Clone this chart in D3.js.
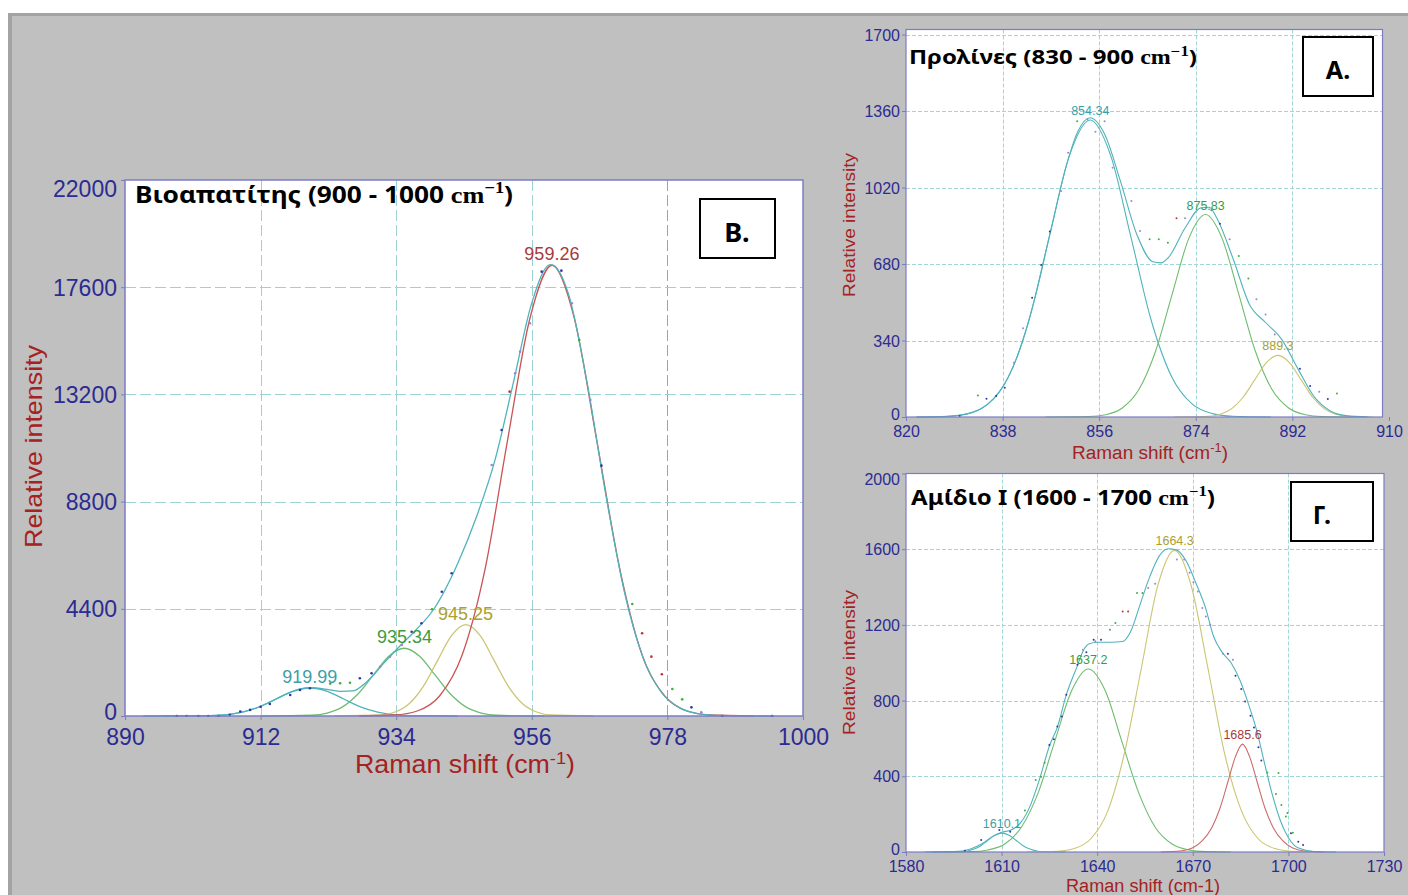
<!DOCTYPE html>
<html><head><meta charset="utf-8">
<script src="https://cdn.jsdelivr.net/npm/d3@7"></script>
<style>body{margin:0;background:#fff;} svg{display:block;}</style>
</head><body>
<svg id="chart" width="1408" height="895"></svg>
<script>
// ---------------- DATA ----------------
// Panel B (Βιοαπατίτης)
const bXTicks = [890, 912, 934, 956, 978, 1000];
const bYTicks = [0, 4400, 8800, 13200, 17600, 22000];
const bPeakLabels = ["919.99", "935.34", "945.25", "959.26"];
const bPeakCenters = [919.99, 935.34, 945.25, 959.26];
const bPeakHeights = [1150, 2780, 3750, 18500];
const bPeak920 = [[896,0],[903,13],[906.2,50],[909,156],[911.8,373],[914.5,697],[917.2,1015],[920,1150],[922.8,1015],[925.5,697],[928.2,373],[931,156],[933.8,50],[937,13],[944,0]];
const bPeak935 = [[912,0],[920.3,31],[922.8,122],[925.3,376],[927.8,903],[930.3,1686],[932.8,2453],[935.3,2780],[937.8,2453],[940.3,1686],[942.8,903],[945.3,376],[947.8,122],[950.3,31],[958,0]];
const bPeak945 = [[924,0],[931.5,42],[933.8,165],[936.1,507],[938.4,1218],[940.7,2274],[943,3309],[945.3,3750],[947.6,3309],[949.9,2274],[952.2,1218],[954.5,507],[956.8,165],[959.1,42],[966,0]];
const bPeak959 = [[928,0],[933.7,41],[937.4,205],[941,812],[944.7,2503],[948.4,6007],[952,11220],[955.7,16326],[959.3,18500],[962.9,16326],[966.6,11220],[970.3,6007],[973.9,2503],[977.6,812],[981.2,205],[984.9,41],[992,0]];
const bEnvelope = [[893,0],[900,2],[905,28],[908,106],[911,301],[914,634],[917,994],[920,1160],[923,1085],[925,1010],[927,1030],[929.2,1400],[932,2170],[934.6,2870],[937,3480],[940,4351],[944,6274],[947,8156],[950,10480],[953,13676],[956,16957],[959,18528],[962,17282],[965,13640],[968,9093],[971,5121],[974,2436],[977,978],[980,332],[983,95],[986,23],[990,3],[995,0]];
const bDotsBlue = [[898.4,0],[900,0],[901.9,0],[903.5,0],[905.2,0],[907,40],[908.7,180],[910.3,250],[912,380],[913.5,493],[916.8,862],[918.4,1067],[920,1137],[928.1,1548],[930,1753],[936.5,3461],[938.1,3805],[941.4,5102],[943,5857],[951.1,11741],[957.6,18238],[960.8,18279],[967.3,10275],[981.9,356],[986.9,0],[995,0]];
const bDotsGreen = [[923.3,1330],[924.9,1342],[926.5,1367],[939.8,4380],[963.7,15435],[972.3,4597],[978.8,1108],[980.4,684]];
const bDotsRed = [[952.4,13313],[973.9,3394],[975.4,2435],[977.1,1711]];
const bDotsPurple = [[931.4,2024],[933,2434],[934.9,2915],[949.5,10304],[953.3,14067],[954.1,14955],[955.7,16120],[962.5,16941],[965.5,12972],[983.5,151]];

// Panel A (Προλίνες)
const aXTicks = [820, 838, 856, 874, 892, 910];
const aYTicks = [0, 340, 680, 1020, 1360, 1700];
const aPeakLabels = ["854.34", "875.83", "889.3"];
const aPeakCenters = [854.34, 875.83, 889.3];
const aPeakHeights = [1320, 900, 274];
const aPeak854 = [[822,0],[827.7,3],[831.5,15],[835.3,58],[839.1,179],[842.9,429],[846.7,801],[850.5,1165],[854.3,1320],[858.1,1165],[861.9,801],[865.7,429],[869.5,179],[873.3,58],[877.1,15],[880.9,3],[888,0]];
const aPeak876 = [[846,0],[854.1,2],[857.2,10],[860.3,40],[863.4,122],[866.5,292],[869.6,546],[872.7,794],[875.8,900],[878.9,794],[882,546],[885.1,292],[888.2,122],[891.3,40],[894.4,10],[897.5,2],[904,0]];
const aPeak889 = [[870,0],[876.4,3],[878.55,12],[880.7,37],[882.85,89],[885,166],[887.15,242],[889.3,274],[891.45,242],[893.6,166],[895.75,89],[897.9,37],[900.05,12],[902.2,3],[907,0]];
const aEnvelope = [[822,0],[826,1],[830,8],[834,37],[838,132],[841,285],[844,527],[847,832],[850,1128],[852,1268],[854.3,1330],[857,1258],[860,1045],[863,812],[866,690],[867.5,685],[869,712],[872,840],[875,930],[876.5,932],[878,880],[881,700],[884,500],[887,420],[890,345],[893,215],[896,92],[899,28],[902,6],[906,0]];
const aDotsBlue = [[830,4],[835,81],[836.8,93],[838.4,130],[843.5,530],[845.2,676],[846.8,824],[878.5,859],[893.4,215],[895.3,138],[898.6,80]];
const aDotsGreen = [[833.4,96],[851.9,1315],[865.4,790],[867.1,790],[868.8,775],[876.9,919],[882,716],[883.8,616],[900.3,104]];
const aDotsRed = [[870.4,883]];
const aDotsPurple = [[840.1,241],[841.8,394],[848.9,1004],[850.2,1175],[853.8,1323],[855.3,1268],[857,1315],[858.5,1108],[862,960],[863.6,827],[872,883],[880.3,790],[885.3,523],[887,456],[888.7,367],[897,112]];

// Panel Γ (Αμίδιο I)
const gXTicks = [1580, 1610, 1640, 1670, 1700, 1730];
const gYTicks = [0, 400, 800, 1200, 1600, 2000];
const gPeakLabels = ["1610.1", "1637.2", "1664.3", "1685.6"];
const gPeakCenters = [1610.1, 1637.2, 1664.3, 1685.6];
const gPeakHeights = [100, 967, 1594, 570];
const gPeak1610 = [[1588,0],[1596.6,1],[1598.9,4],[1601.1,14],[1603.4,32],[1605.6,61],[1607.85,88],[1610.1,100],[1612.35,88],[1614.6,61],[1616.85,32],[1619.1,14],[1621.35,4],[1623.6,1],[1630,0]];
const gPeak1637 = [[1592,0],[1600.5,2],[1605.7,11],[1611,42],[1616.2,131],[1621.5,314],[1626.7,586],[1632,853],[1637.2,967],[1642.5,853],[1647.7,586],[1653,314],[1658.2,131],[1663.5,42],[1668.7,11],[1674,2],[1682,0]];
const gPeak1664 = [[1618,0],[1627.5,4],[1632.8,18],[1638,70],[1643.3,216],[1648.5,518],[1653.8,967],[1659,1407],[1664.3,1594],[1669.5,1407],[1674.8,967],[1680,518],[1685.3,216],[1690.5,70],[1695.8,18],[1701,4],[1710,0]];
const gPeak1686 = [[1660,0],[1666,5],[1670,22],[1673,60],[1676,130],[1678.5,230],[1681,370],[1683.3,500],[1685.6,570],[1687.9,500],[1690.2,370],[1692.7,230],[1695.2,130],[1698.2,60],[1701.2,22],[1705.2,5],[1711,0]];
const gEnvelope = [[1586,0],[1595,2],[1600,15],[1604,45],[1607,80],[1610,104],[1613,116],[1616,155],[1619,245],[1622,390],[1625,560],[1627.5,660],[1630.3,830],[1633.8,985],[1635.5,1060],[1637.5,1100],[1640,1108],[1644,1108],[1648,1112],[1650.5,1165],[1653.5,1310],[1656.5,1455],[1659.5,1565],[1662.3,1602],[1665,1595],[1668,1535],[1671,1420],[1674,1290],[1676.5,1140],[1679,1060],[1682,1000],[1685,900],[1687.5,780],[1690,645],[1692.5,470],[1695,300],[1697.5,165],[1700,75],[1703,22],[1708,3],[1715,0]];
const gDotsBlue = [[1598.5,7],[1603.6,63],[1609.3,116],[1612.7,107],[1625,566],[1626.4,596],[1627.5,663],[1628.9,716],[1630.3,831],[1633.8,989],[1636.6,1055],[1638.9,1122],[1641.2,1122],[1681,1048],[1683.4,931],[1685.2,861],[1686.4,795],[1688.1,720],[1689.2,658],[1690.6,554],[1691.5,483],[1700.8,99],[1703.1,54],[1704.6,37]];
const gDotsGreen = [[1617.3,219],[1620.7,381],[1622.4,398],[1623.5,472],[1644,1175],[1645.7,1210],[1652.5,1369],[1654.2,1369],[1693.4,420],[1696.1,307],[1696.9,418],[1697.8,249],[1699.2,187],[1699.7,206],[1701.4,102]];
const gDotsRed = [[1648,1271],[1649.7,1271]];
const gDotsPurple = [[1635.5,1069],[1639.4,1113],[1656,1395],[1658.2,1418],[1665,1545],[1667.3,1545],[1669,1475],[1670.2,1425],[1671.6,1377],[1673,1289],[1674.1,1245],[1675.5,1201],[1679.5,1048],[1682.6,1016]];

// ---------------- STYLE ----------------
const W = 1408, H = 895;
const FRAME = "#7c7cc6", TICK = "#2b2b92", AXT = "#a42222";
const SANS = "'Liberation Sans', Arial, sans-serif";
const BOLD = "'Noto Sans', 'DejaVu Sans', sans-serif";
const SERIF = "'Liberation Serif', 'DejaVu Serif', serif";
const TEAL = "#4fb3bb", GREEN = "#6fbc6f", OLIVE = "#cbc572", RED = "#c85454", REDSOFT = "#cc6c6c";
const DOTC = ["#3535a8", "#3fae3f", "#c03434", "#9c86d0"];

const svg = d3.select("#chart");
svg.append("rect").attr("width", W).attr("height", H).attr("fill", "#fff");
svg.append("rect").attr("x", 8).attr("y", 13).attr("width", W - 8).attr("height", H - 13).attr("fill", "#c0c0c0");
svg.append("rect").attr("x", 8).attr("y", 13).attr("width", W - 8).attr("height", 3).attr("fill", "#a3a3a3");
svg.append("rect").attr("x", 8).attr("y", 13).attr("width", 4).attr("height", H - 13).attr("fill", "#a3a3a3");
const defs = svg.append("defs");

function drawPanel(p) {
  const g = svg.append("g");
  const x = d3.scaleLinear().domain(p.xDomain).range([p.left, p.right]);
  const y = d3.scaleLinear().domain(p.yDomain).range([p.bottom, p.top]);
  const fR = p.frameRight, fT = p.frameTop;
  g.append("rect").attr("x", p.left).attr("y", fT).attr("width", fR - p.left).attr("height", p.bottom - fT).attr("fill", "#fff");
  const grid = g.append("g").attr("stroke", p.gridColor).attr("stroke-width", 1).attr("stroke-dasharray", p.dash).attr("fill", "none");
  grid.selectAll(".gv").data(p.xTicks.filter(t => x(t) > p.left + 1 && x(t) < fR - 1)).join("line").attr("class", "gv")
    .attr("x1", d => Math.round(x(d)) + 0.5).attr("x2", d => Math.round(x(d)) + 0.5).attr("y1", fT).attr("y2", p.bottom)
    .attr("stroke", d => p.darkV && d === p.darkV ? "#6fb8b8" : null);
  grid.selectAll(".gh").data(p.yTicks.filter(t => y(t) > fT + 1 && y(t) < p.bottom - 1)).join("line").attr("class", "gh")
    .attr("y1", d => Math.round(y(d)) + 0.5).attr("y2", d => Math.round(y(d)) + 0.5).attr("x1", p.left).attr("x2", fR);
  defs.append("clipPath").attr("id", "clip-" + p.id).append("rect")
    .attr("x", p.left).attr("y", fT).attr("width", fR - p.left).attr("height", p.bottom - fT + 1);
  const plot = g.append("g").attr("clip-path", `url(#clip-${p.id})`).attr("fill", "none");
  const line = d3.line().x(d => x(d[0])).y(d => y(d[1])).curve(d3.curveMonotoneX);
  p.components.forEach((c, i) => plot.append("path").attr("d", line(c)).attr("stroke", p.compColors[i]).attr("stroke-width", p.lw));
  plot.append("path").attr("d", line(p.envelope)).attr("stroke", TEAL).attr("stroke-width", p.lw);
  p.dots.forEach((set, i) => plot.append("g").attr("fill", DOTC[i]).selectAll("circle").data(set).join("circle")
    .attr("cx", d => x(d[0])).attr("cy", d => y(d[1])).attr("r", p.dotR));
  // peak labels
  g.append("g").selectAll("text").data(p.peakCenters).join("text")
    .attr("x", d => x(d)).attr("y", (d, i) => y(p.peakHeights[i]) - 5).attr("text-anchor", "middle")
    .attr("fill", (d, i) => p.labelColors[i]).attr("font-family", SANS).attr("font-size", p.peakFont)
    .text((d, i) => p.peakLabels[i]);
  // frame
  g.append("rect").attr("x", p.left).attr("y", fT).attr("width", fR - p.left).attr("height", p.bottom - fT)
    .attr("fill", "none").attr("stroke", FRAME).attr("stroke-width", p.frameW);
  // axes
  const ya = g.append("g").attr("transform", `translate(${p.left},0)`)
    .call(d3.axisLeft(y).tickValues(p.yTicks).tickSize(p.tickLen).tickFormat(d => String(d)));
  ya.select(".domain").remove();
  ya.selectAll(".tick line").attr("stroke", FRAME);
  ya.selectAll(".tick text").attr("fill", TICK).attr("font-size", p.tickFont).attr("font-family", SANS)
    .attr("x", -p.yGap).attr("dy", "0.35em")
    .attr("y", d => { const cy = y(d); const t = Math.min(Math.max(cy, fT + p.tickFont * 0.36), p.bottom - p.tickFont * 0.22); return t - cy; });
  const xa = g.append("g").attr("transform", `translate(0,${p.bottom})`)
    .call(d3.axisBottom(x).tickValues(p.xTicks).tickSize(p.tickLen).tickFormat(d => String(d)));
  xa.select(".domain").remove();
  xa.selectAll(".tick line").attr("stroke", FRAME);
  xa.selectAll(".tick text").attr("fill", TICK).attr("font-size", p.tickFont).attr("font-family", SANS)
    .attr("y", p.xGap).attr("dy", "0.35em");
}

function richTitle(main, x, yb, size, len) {
  const t = svg.append("text").attr("x", x).attr("y", yb).attr("font-size", size).attr("font-weight", "bold")
    .attr("fill", "#000").attr("textLength", len).attr("lengthAdjust", "spacingAndGlyphs");
  t.append("tspan").attr("font-family", BOLD).text(main);
  t.append("tspan").attr("font-family", SERIF).text("cm");
  t.append("tspan").attr("font-family", SERIF).attr("font-size", size * 0.7).attr("dy", -size * 0.42).text("\u22121");
  t.append("tspan").attr("font-family", BOLD).attr("dy", size * 0.42).text(")");
}
function xTitle(x, yb, size, len, sup) {
  const t = svg.append("text").attr("x", x).attr("y", yb).attr("font-size", size).attr("font-family", SANS)
    .attr("fill", AXT).attr("textLength", len).attr("lengthAdjust", "spacingAndGlyphs");
  if (sup) {
    t.append("tspan").text("Raman shift (cm");
    t.append("tspan").attr("font-size", size * 0.68).attr("dy", -size * 0.38).text("-1");
    t.append("tspan").attr("dy", size * 0.38).text(")");
  } else {
    t.text("Raman shift (cm-1)");
  }
}
function yTitle(xb, ystart, size, len) {
  svg.append("text").attr("transform", `translate(${xb},${ystart}) rotate(-90)`).attr("font-size", size)
    .attr("font-family", SANS).attr("fill", AXT).attr("textLength", len).attr("lengthAdjust", "spacingAndGlyphs")
    .text("Relative intensity");
}
function box(x, y, w, h, label, size, cx, yb) {
  svg.append("rect").attr("x", x).attr("y", y).attr("width", w).attr("height", h).attr("fill", "#fff")
    .attr("stroke", "#000").attr("stroke-width", 2);
  svg.append("text").attr("x", cx).attr("y", yb).attr("text-anchor", "middle").attr("font-family", BOLD)
    .attr("font-weight", "bold").attr("font-size", size).attr("fill", "#000").text(label);
}

// ---- Panel B ----
drawPanel({
  id: "B", xDomain: [890, 1000], yDomain: [0, 22000], left: 125, right: 803, top: 180, bottom: 716,
  frameTop: 180, frameRight: 803, xTicks: bXTicks, yTicks: bYTicks, gridColor: "#9dd2d2", dash: "11,4", darkV: 978,
  components: [bPeak920, bPeak935, bPeak945, bPeak959], compColors: [TEAL, GREEN, OLIVE, RED],
  envelope: bEnvelope, dots: [bDotsBlue, bDotsGreen, bDotsRed, bDotsPurple], dotR: 1.3, lw: 1.3,
  peakCenters: bPeakCenters, peakHeights: bPeakHeights, peakLabels: bPeakLabels,
  labelColors: ["#3a9fa8", "#3c9c3c", "#aaa030", "#a83a3a"], peakFont: 18,
  frameW: 1.5, tickLen: 4, tickFont: 23, yGap: 8, xGap: 21
});
richTitle("Βιοαπατίτης (900 - 1000 ", 135, 203, 23, 378);
xTitle(355, 773, 25, 220, true);
yTitle(42, 548, 24, 203);
box(700, 199, 75, 59, "B.", 27, 737, 241.5);

// ---- Panel A ----
drawPanel({
  id: "A", xDomain: [820, 910], yDomain: [0, 1700], left: 906, right: 1389, top: 34.5, bottom: 417,
  frameTop: 29.5, frameRight: 1382.5, xTicks: aXTicks, yTicks: aYTicks, gridColor: "#a3d6d6", dash: "4,2",
  components: [aPeak854, aPeak876, aPeak889], compColors: [TEAL, GREEN, OLIVE],
  envelope: aEnvelope, dots: [aDotsBlue, aDotsGreen, aDotsRed, aDotsPurple], dotR: 1, lw: 1.1,
  peakCenters: aPeakCenters, peakHeights: aPeakHeights, peakLabels: aPeakLabels,
  labelColors: ["#3a9fa8", "#3c9c3c", "#aaa030"], peakFont: 12.5,
  frameW: 1.2, tickLen: 4, tickFont: 16, yGap: 6, xGap: 14
});
richTitle("Προλίνες (830 - 900 ", 909, 64, 20, 288);
xTitle(1072, 459, 18, 156, true);
yTitle(855, 297, 16.5, 144);
box(1303, 37, 70, 59, "A.", 25, 1338, 79);

// ---- Panel Γ ----
drawPanel({
  id: "G", xDomain: [1580, 1730], yDomain: [0, 2000], left: 906, right: 1384, top: 473.5, bottom: 852,
  frameTop: 473.5, frameRight: 1384, xTicks: gXTicks, yTicks: gYTicks, gridColor: "#a3d6d6", dash: "4,2",
  components: [gPeak1610, gPeak1637, gPeak1664, gPeak1686], compColors: [TEAL, GREEN, OLIVE, REDSOFT],
  envelope: gEnvelope, dots: [gDotsBlue, gDotsGreen, gDotsRed, gDotsPurple], dotR: 1, lw: 1.1,
  peakCenters: gPeakCenters, peakHeights: gPeakHeights, peakLabels: gPeakLabels,
  labelColors: ["#3a9fa8", "#3c9c3c", "#aaa030", "#a83a3a"], peakFont: 12.5,
  frameW: 1.2, tickLen: 4, tickFont: 16, yGap: 6, xGap: 14
});
richTitle("Αμίδιο I (1600 - 1700 ", 911, 505, 20.5, 304);
xTitle(1066, 892, 18, 154, false);
yTitle(855, 735, 16.5, 145);
box(1291, 482, 82, 59, "Γ.", 25, 1322, 523.5);
</script>
</body></html>
